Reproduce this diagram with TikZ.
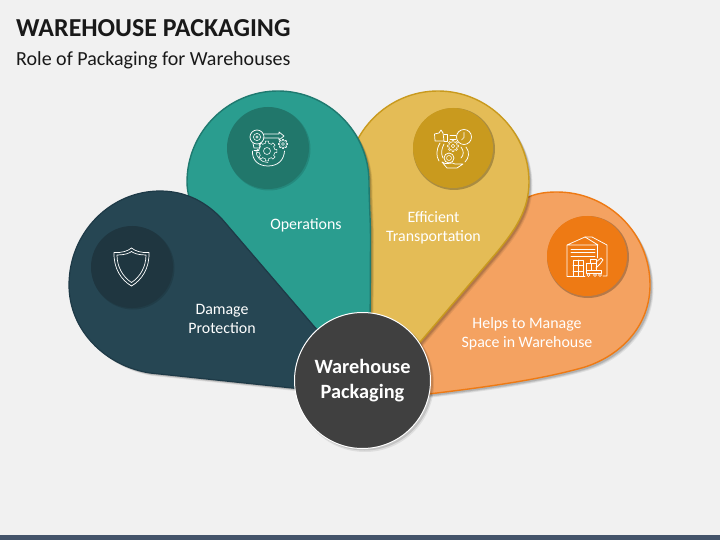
\documentclass[tikz,border=0pt]{standalone}
\usepackage{fontspec}
\setmainfont{Carlito}
\usetikzlibrary{calc}
\definecolor{bgc}{HTML}{F1F1F1}
\definecolor{barc}{HTML}{44546A}
\definecolor{darkf}{HTML}{264653}
\definecolor{darkd}{HTML}{1E3A47}
\definecolor{darki}{HTML}{1F3640}
\definecolor{tealf}{HTML}{2A9D8F}
\definecolor{teald}{HTML}{1F7A70}
\definecolor{teali}{HTML}{21776B}
\definecolor{yelf}{HTML}{E4BC56}
\definecolor{yeld}{HTML}{C99A1E}
\definecolor{orf}{HTML}{F4A261}
\definecolor{ord}{HTML}{EE7A14}
\definecolor{cent}{HTML}{404040}
\tikzset{
  lab/.style={text=white,font=\fontsize{15.9}{18.8}\selectfont,align=center,inner sep=0pt},
  ico/.style={draw=white,line width=0.75pt,line cap=round,line join=round},
  icothin/.style={draw=white,line width=0.55pt,line cap=round,line join=round},
}
\newcommand{\softshadow}[2]{%
  \fill[black,opacity=.07,shift={(#1+1.5,#1+1.5)}] #2;
  \fill[black,opacity=.09,shift={(#1+.7,#1+.7)}] #2;
  \fill[black,opacity=.12,shift={(#1,#1)}] #2;
}
\newcommand{\gearshape}[4]{% x y outer inner
  \foreach \a in {0,45,...,315}{
    \draw[icothin] ($(#1,#2)+(\a-11:#4)$) -- ($(#1,#2)+(\a-9:#3)$) -- ($(#1,#2)+(\a+9:#3)$) -- ($(#1,#2)+(\a+11:#4)$) arc[start angle=\a+11,end angle=\a+34,radius=#4];
  }
}
\begin{document}
\begin{tikzpicture}[x=1pt,y=-1pt]
\useasboundingbox (0,0) rectangle (720,540);
\fill[bgc] (0,0) rectangle (720,540);
\fill[barc] (0,535) rectangle (720,540);

\node[anchor=west,inner sep=0pt,font=\fontsize{25.9}{30}\selectfont\bfseries,text=black!90] (title) at (16,28) {WAREHOUSE PACKAGING};
\node[anchor=west,inner sep=0pt,font=\fontsize{20}{24}\selectfont,text=black!90] (subtitle) at (16,60) {Role of Packaging for Warehouses};

% orange petal
\def\orpath{(420,395) .. controls (480,388) and (540,380) .. (585,367) .. controls (622,355) and (650,325) .. (650,285) .. controls (650,233) and (608,192) .. (557,192) .. controls (540,192) and (525,195) .. (510,210) -- (400,350) -- cycle}
\softshadow{2}{\orpath}
\path[fill=orf,draw=ord,line width=1.4pt] \orpath;

% yellow petal
\def\yepath{(415,348) -- (497,252) .. controls (515,230) and (529,210) .. (529,182) .. controls (529,132) and (488,91) .. (438,91) .. controls (388,91) and (347,132) .. (347,182) -- (365,348) -- cycle}
\softshadow{2}{\yepath}
\path[fill=yelf,draw=yeld,line width=1.4pt] \yepath;

% teal petal
\def\tepath{(370,345) -- (370.5,240) .. controls (370.5,220) and (369,200) .. (369,182) .. controls (369,132) and (328,91) .. (278,91) .. controls (228,91) and (187,132) .. (187,182) .. controls (187,220) and (230,270) .. (340,345) -- cycle}
\softshadow{2}{\tepath}
\path[fill=tealf,draw=teald,line width=1.4pt] \tepath;

% dark petal
\def\dapath{(330,392) -- (150,373) .. controls (105,366) and (69,330) .. (69,285) .. controls (69,233) and (110,191) .. (160,191) .. controls (187,191) and (207,203) .. (222,219) -- (330,345) -- cycle}
\softshadow{1.5}{\dapath}
\path[fill=darkf,draw=darkd,line width=1.2pt] \dapath;

% icon discs
\fill[black,opacity=.12] (133,268) circle (41.5);
\node[circle,fill=darki,minimum size=82pt,inner sep=0pt] (discA) at (132,267) {};
\fill[black,opacity=.12] (269,149) circle (41.5);
\node[circle,fill=teali,minimum size=82pt,inner sep=0pt] (discB) at (268,148) {};
\fill[black,opacity=.25] (454,149) circle (41);
\node[circle,fill=yeld,minimum size=80pt,inner sep=0pt] (discC) at (453,148) {};
\fill[black,opacity=.25] (588,257) circle (41);
\node[circle,fill=ord,minimum size=80pt,inner sep=0pt] (discD) at (587,256) {};

% shield icon
\draw[ico,line width=.7pt] (114,252.5) .. controls (122,253) and (128,251) .. (131.5,248) .. controls (135,251) and (141,253) .. (149,252.5) .. controls (149.5,268) and (142,280) .. (131.5,286) .. controls (121,280) and (113.5,268) .. (114,252.5) -- cycle;
\draw[ico,line width=.7pt] (117,255) .. controls (124,255) and (129,253.5) .. (131.5,251.5) .. controls (134,253.5) and (139,255) .. (146,255) .. controls (146,267) and (140,277) .. (131.5,282.5) .. controls (123,277) and (117,267) .. (117,255) -- cycle;

% operations icon
\draw[ico] (257,137) circle (7);
\draw[icothin] (257,137) circle (3.6);
\draw[icothin] (257,137) circle (1.2);
\draw[ico] (264,134) -- (279,134) -- (279,132) -- (284,136) -- (279,140) -- (279,138) -- (263,138);
\draw[ico] (253,143.5) -- (254,148) -- (259.5,148) -- (260.5,143.5);
\draw[icothin] (254,150) -- (259,150);
\gearshape{267}{151}{10}{8}
\draw[icothin] (267,151) circle (3.5);
\gearshape{283}{144}{4.6}{3.5}
\draw[icothin] (283,144) circle (1.5);
\draw[ico] (252.5,151) .. controls (252,160) and (258,166) .. (268,166) .. controls (278,166) and (284,160) .. (284.5,151);
\draw[icothin] (256,151) .. controls (256,157) and (261,162.5) .. (268,162.5);

% transport icon
\draw[ico] (464,137) circle (7.5);
\draw[icothin] (464,132.5) -- (464,137.5) -- (461.5,140);
\draw[ico] (434.5,134) -- (439,133) -- (441,130) -- (443,133) -- (444,141) -- (435,141) -- cycle;
\draw[ico] (444,134) -- (447.5,134) -- (447.5,141) -- (444,141);
\draw[ico] (450,135) -- (456,135) (450,139) -- (456,139);
\gearshape{453}{146}{5.6}{4.2}
\draw[icothin] (453,146) circle (1.8);
\draw[ico] (440,143) .. controls (436,150) and (436,156) .. (439,161);
\draw[ico] (444,144) .. controls (441,150) and (441,154) .. (443,158);
\draw[ico] (466,147) .. controls (470,152) and (469,158) .. (465,162);
\draw[ico] (461,147) .. controls (464,151) and (464,155) .. (461,158);
\draw[ico] (449,158) circle (5);
\draw[icothin] (449,158) circle (2.5);
\draw[ico] (442,162) .. controls (446,166) and (452,161) .. (455,164) -- (463,164) (442,162) -- (447,168) -- (457,168) -- (463,164);

% warehouse icon
\draw[ico] (567,276) -- (567,245) -- (585,237) -- (598,245) -- (567,245);
\draw[ico] (585,237) -- (592,237) -- (607,245) -- (607,276) -- (603,276);
\draw[ico] (597,245) -- (597,258);
\draw[ico] (571,249) -- (595,249) (571,252.5) -- (595,252.5) (571,256) -- (595,256);
\draw[ico] (567,276) -- (585,276);
\draw[ico] (573,260) rectangle (583,276);
\draw[icothin] (578,260) -- (578,276) (573,265.5) -- (583,265.5) (573,271) -- (583,271);
\draw[ico] (586,270) -- (601,270) -- (601,273) -- (586,273) -- cycle;
\draw[icothin] (586,263) rectangle (591,270) (591,263) rectangle (596,270) (590,259) rectangle (596,263);
\draw[ico] (596,262) -- (601,258) -- (603,260) -- (600,264) -- (596,268);
\draw[icothin] (588.5,275) circle (1.6) (595,275) circle (1.6) (600,275) circle (1.6);

% labels
\node[lab] (tOps) at (306,225.5) {Operations};
\node[lab] (tDam) at (222,319) {Damage\\Protection};
\node[lab] (tEff) at (433.5,228) {Efficient\\Transportation};
\node[lab] (tSpa) at (527,334) {Helps to Manage\\Space in Warehouse};

% hub
\fill[black,opacity=.08] (365,383) circle (69);
\fill[black,opacity=.12] (364.5,382) circle (68.5);
\node[circle,fill=cent,draw=white,line width=1pt,minimum size=136pt,inner sep=0pt,text=white,font=\fontsize{20.3}{25.2}\selectfont\bfseries,align=center] (hub) at (362.5,380.5) {Warehouse\\Packaging};
\end{tikzpicture}
\end{document}
